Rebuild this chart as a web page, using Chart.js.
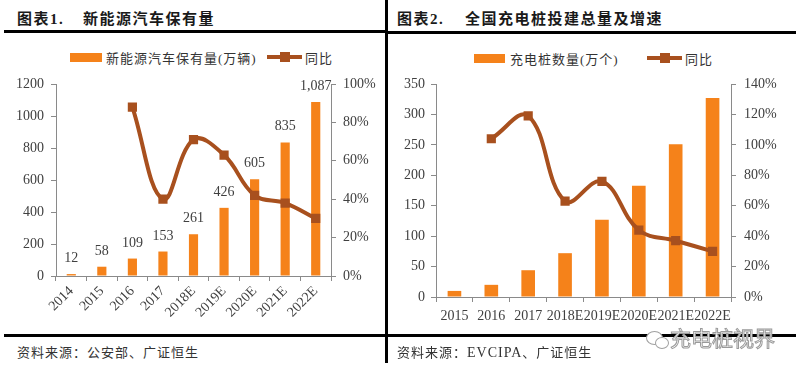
<!DOCTYPE html>
<html>
<head>
<meta charset="utf-8">
<script src="https://cdn.jsdelivr.net/npm/chart.js@4.4.1/dist/chart.umd.min.js"></script>
<style>
    body {
        margin: 0;
        width: 800px;
        height: 370px;
        background: #fff;
        position: relative;
        overflow: hidden;
        font-family: "Liberation Serif", "Noto Sans CJK SC", serif;
        color: #333;
    }
    .abs { position: absolute; white-space: nowrap; }
    .title { top: 7px; font-size: 15px; font-weight: bold; color: #1a1a1a; letter-spacing: 1.5px; }
    .rule { background: #000; }
    .src { top: 342px; font-size: 13px; letter-spacing: 1px; color: #333; font-family: "Noto Sans CJK SC", sans-serif; }
    .src span { font-family: "Liberation Serif", serif; font-size: 14px; }
    .leg { font-size: 13px; letter-spacing: 1px; color: #333; }
    .box { background: #f5821a; }
    .ln { background: #a8501e; }
    .wm { top: 322px; left: 670px; font-size: 21px; color: #fff; -webkit-text-stroke: 1px #9a9a9a; font-family: "Noto Sans CJK SC", sans-serif; }
    .bub { border: 1px solid #a0a0a0; border-radius: 50%; background: #fff; }
</style>
</head>
<body>

<div class="abs title" style="left:17px">图表1.</div>
<div class="abs title" style="left:83px">新能源汽车保有量</div>
<div class="abs title" style="left:397px">图表2.</div>
<div class="abs title" style="left:465px">全国充电桩投建总量及增速</div>

<div class="abs rule" style="left:4px;top:30px;width:383px;height:3px"></div>
<div class="abs rule" style="left:388px;top:31px;width:408px;height:3px"></div>
<div class="abs rule" style="left:385px;top:0;width:3px;height:363px"></div>
<div class="abs rule" style="left:4px;top:334px;width:383px;height:3px"></div>
<div class="abs rule" style="left:388px;top:334px;width:408px;height:3px"></div>

<!-- legends -->
<div class="abs box" style="left:70px;top:53px;width:32px;height:9px"></div>
<div class="abs leg" style="left:106px;top:48px">新能源汽车保有量(万辆)</div>
<div class="abs ln" style="left:267px;top:55px;width:35px;height:4px"></div>
<div class="abs ln" style="left:280px;top:52px;width:10px;height:10px"></div>
<div class="abs leg" style="left:305px;top:48px">同比</div>

<div class="abs box" style="left:474px;top:54px;width:31px;height:9px"></div>
<div class="abs leg" style="left:510px;top:49px">充电桩数量(万个)</div>
<div class="abs ln" style="left:647px;top:56px;width:35px;height:4px"></div>
<div class="abs ln" style="left:660px;top:53px;width:10px;height:10px"></div>
<div class="abs leg" style="left:685px;top:49px">同比</div>

<div class="abs" style="left:0;top:40px;width:386px;height:290px">
    <canvas id="stockChart" width="386" height="290"></canvas>
</div>
<div class="abs" style="left:388px;top:40px;width:412px;height:290px">
    <canvas id="pileChart" width="412" height="290"></canvas>
</div>

<div class="abs src" style="left:17px">资料来源：公安部、广证恒生</div>
<div class="abs src" style="left:397px">资料来源：<span>EVCIPA</span>、广证恒生</div>

<div class="abs bub" style="left:646px;top:331px;width:15px;height:12px"></div>
<div class="abs bub" style="left:655px;top:337px;width:12px;height:10px"></div>
<div class="abs wm">充电桩视界</div>

<script>
// chart 1: 新能源汽车保有量
const stockYears = ['2014', '2015', '2016', '2017', '2018E', '2019E', '2020E', '2021E', '2022E'];
const stockValues = [12, 58, 109, 153, 261, 426, 605, 835, 1087];
const stockYoy = [null, null, 88, 40, 71, 63, 42, 38, 30];
const stockAxisMax = 1200;
const stockYoyMax = 100;

// chart 2: 充电桩
const pileYears = ['2015', '2016', '2017', '2018E', '2019E', '2020E', '2021E', '2022E'];
const pileValues = [10, 20, 44, 72, 127, 183, 251, 327];
const pileYoy = [null, 104, 119, 63, 76, 44, 37, 30];
const pileAxisMax = 350;
const pileYoyMax = 140;

const orange = '#f5821a';
const brown = '#a8501e';
const axisGray = '#8a8a8a';

Chart.defaults.font.family = '"Liberation Serif", serif';
Chart.defaults.font.size = 14;
Chart.defaults.color = '#404040';

// value labels above the bars
const barLabels = {
    id: 'barLabels',
    afterDatasetsDraw(chart, args, opts) {
        if (!opts.show) return;
        const ctx = chart.ctx;
        const meta = chart.getDatasetMeta(1);
        ctx.save();
        ctx.font = '14px "Liberation Serif", serif';
        ctx.fillStyle = '#404040';
        ctx.textAlign = 'center';
        ctx.textBaseline = 'alphabetic';
        meta.data.forEach(function (bar, i) {
            const v = chart.data.datasets[1].data[i];
            ctx.fillText(v.toLocaleString('en-US'), bar.x, bar.y - 12);
        });
        ctx.restore();
    }
};

function axisGrid() {
    return {
        display: true,
        drawOnChartArea: false,
        drawTicks: true,
        tickLength: 5,
        color: axisGray
    };
}

function makeChart(id, cfg) {
    return new Chart(document.getElementById(id), {
        type: 'bar',
        data: {
            labels: cfg.labels,
            datasets: [{
                type: 'line',
                data: cfg.yoy,
                yAxisID: 'y1',
                borderColor: brown,
                backgroundColor: brown,
                borderWidth: 4,
                tension: 0.4,
                pointStyle: 'rect',
                pointRadius: 6.5,
                pointBackgroundColor: brown,
                pointBorderWidth: 0,
                order: 0
            }, {
                type: 'bar',
                data: cfg.values,
                yAxisID: 'y',
                backgroundColor: orange,
                barPercentage: cfg.barPct,
                categoryPercentage: 1,
                order: 1
            }]
        },
        options: {
            responsive: false,
            animation: false,
            devicePixelRatio: 1,
            layout: {
                padding: { top: 44, left: 0, right: 0, bottom: 0 }
            },
            plugins: {
                legend: { display: false },
                tooltip: { enabled: false },
                barLabels: { show: cfg.showLabels }
            },
            scales: {
                x: {
                    grid: axisGrid(),
                    border: { display: true, color: axisGray },
                    ticks: {
                        autoSkip: false,
                        minRotation: cfg.rotation,
                        maxRotation: cfg.rotation,
                        padding: cfg.xPad
                    },
                    afterFit: function (s) { s.height = cfg.xHeight; }
                },
                y: {
                    position: 'left',
                    min: 0,
                    max: cfg.leftMax,
                    grid: axisGrid(),
                    border: { display: true, color: axisGray },
                    ticks: {
                        stepSize: cfg.leftStep,
                        padding: cfg.leftPad,
                        callback: function (v) { return String(v); }
                    },
                    afterFit: function (s) { s.width = cfg.leftWidth; }
                },
                y1: {
                    position: 'right',
                    min: 0,
                    max: cfg.rightMax,
                    grid: axisGrid(),
                    border: { display: true, color: axisGray },
                    ticks: {
                        stepSize: 20,
                        padding: cfg.rightPad,
                        callback: function (v) { return v + '%'; }
                    },
                    afterFit: function (s) { s.width = cfg.rightWidth; }
                }
            }
        },
        plugins: [barLabels]
    });
}

window.onload = function () {
    makeChart('stockChart', {
        labels: stockYears,
        values: stockValues,
        yoy: stockYoy,
        leftMax: stockAxisMax,
        leftStep: 200,
        rightMax: stockYoyMax,
        barPct: 0.3,
        showLabels: true,
        rotation: 45,
        xPad: 2,
        xHeight: 54,
        leftWidth: 56,
        rightWidth: 55,
        leftPad: 7,
        rightPad: 7
    });

    makeChart('pileChart', {
        labels: pileYears,
        values: pileValues,
        yoy: pileYoy,
        leftMax: pileAxisMax,
        leftStep: 50,
        rightMax: pileYoyMax,
        barPct: 0.37,
        showLabels: false,
        rotation: 0,
        xPad: 6,
        xHeight: 33,
        leftWidth: 48,
        rightWidth: 69,
        leftPad: 6,
        rightPad: 8
    });
};
</script>
</body>
</html>
